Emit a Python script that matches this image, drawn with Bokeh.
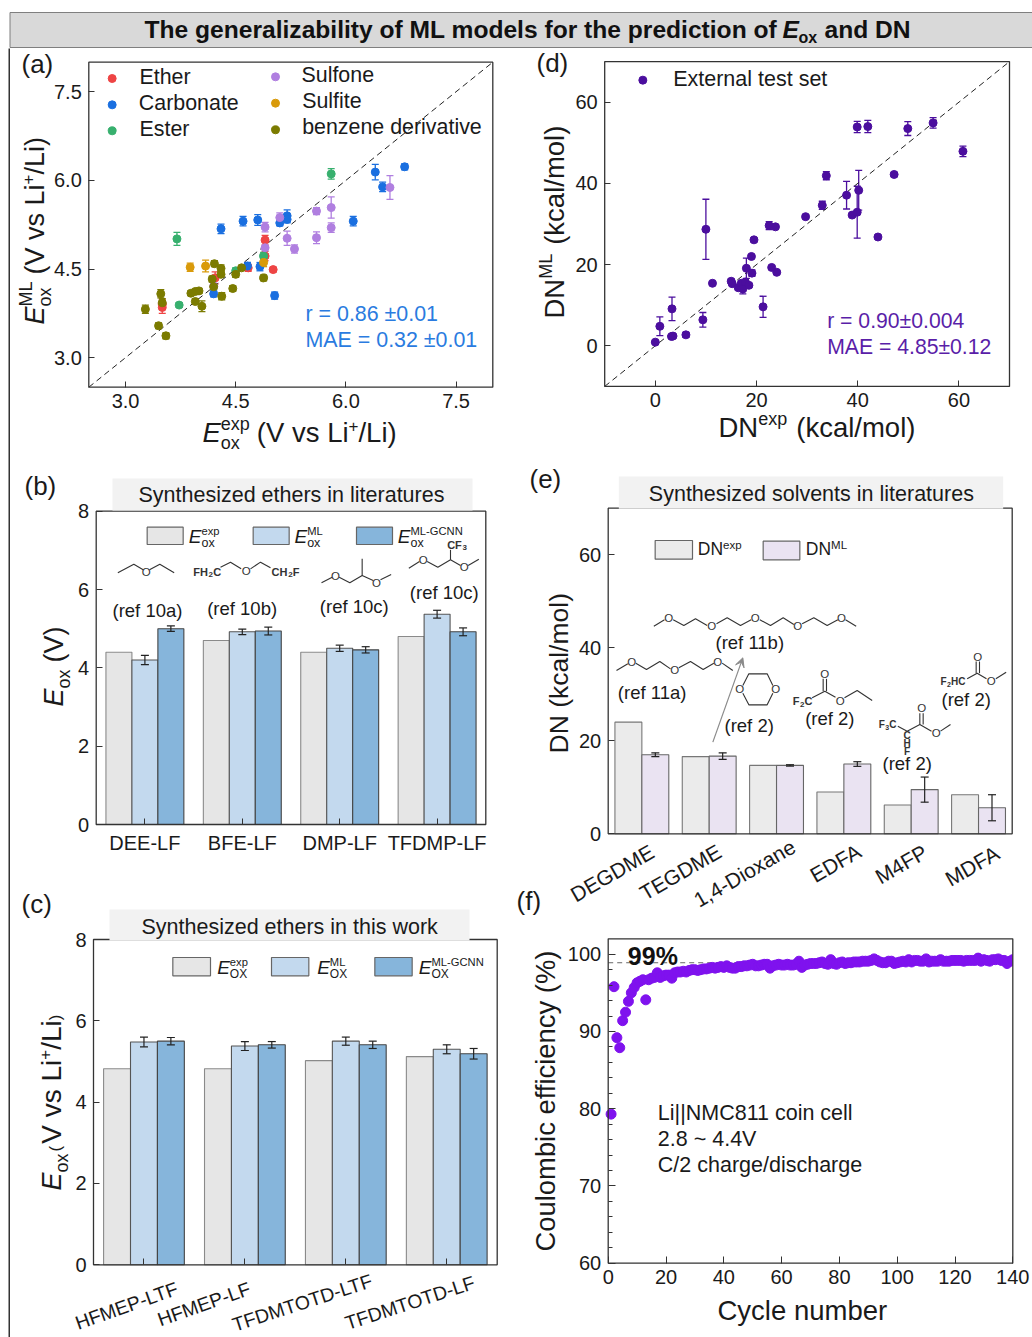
import math
from bokeh.plotting import figure
from bokeh.layouts import row, column
from bokeh.models import (Range1d, Label, BoxAnnotation, Whisker, TeeHead, ColumnDataSource,
                          FixedTicker, Arrow, VeeHead, Spacer)
from bokeh.embed import file_html
from bokeh.resources import INLINE

# ---------- panel (a) ----------
ether_x = [3.5, 3.5, 4.22, 4.67, 4.9, 4.9, 5.01]
ether_y = [3.85, 3.91, 4.35, 4.52, 4.99, 4.72, 4.49]
ether_e = [0.1, 0.08, 0.1, 0.06, 0.08, 0.08, 0.04]
carb_x = [4.2, 4.3, 4.6, 4.8, 4.66, 4.83, 5.03, 5.1, 5.2, 5.2, 6.1, 6.4, 6.5, 6.8]
carb_y = [4.08, 5.18, 5.31, 5.33, 4.55, 4.54, 4.05, 5.28, 5.4, 5.34, 5.31, 6.14, 5.89, 6.23]
carb_e = [0.05, 0.08, 0.08, 0.09, 0.06, 0.07, 0.06, 0.05, 0.1, 0.06, 0.08, 0.13, 0.08, 0.05]
ester_x = [3.7, 3.73, 5.8, 4.88, 4.5]
ester_y = [5.01, 3.89, 6.11, 4.72, 4.47]
ester_e = [0.11, 0.04, 0.09, 0.06, 0.05]
sulfone_x = [5.1, 4.9, 5.2, 5.3, 5.6, 5.6, 5.8, 5.8, 6.6, 4.9, 4.2]
sulfone_y = [5.37, 5.21, 5.02, 4.84, 5.48, 5.03, 5.54, 5.2, 5.88, 4.86, 4.21]
sulfone_e = [0.08, 0.08, 0.12, 0.07, 0.06, 0.1, 0.18, 0.08, 0.2, 0.1, 0.05]
sulfite_x = [3.88, 4.09, 4.88]
sulfite_y = [4.53, 4.55, 4.61]
sulfite_e = [0.07, 0.1, 0.07]
benz_x = [3.27, 3.48, 3.45, 3.55, 3.5, 3.89, 3.95, 4.0, 3.95, 4.04, 4.18, 4.21, 4.2, 4.3, 4.3, 4.31, 4.46, 4.5, 4.58, 4.88]
benz_y = [3.82, 4.08, 3.54, 3.37, 3.93, 4.09, 4.12, 4.13, 3.95, 3.87, 4.33, 4.59, 4.2, 4.51, 4.41, 4.04, 4.17, 4.41, 4.52, 4.35]
benz_e = [0.07, 0.07, 0.05, 0.05, 0.07, 0.04, 0.04, 0.04, 0.05, 0.09, 0.05, 0.05, 0.05, 0.06, 0.05, 0.06, 0.05, 0.05, 0.04, 0.05]
series_names_a = ["Ether", "Carbonate", "Ester", "Sulfone", "Sulfite", "benzene derivative"]

# ---------- panel (d) ----------
dn_exp = [0, 0.9, 3.2, 3.5, 3.3, 6.05, 9.4, 10, 11.3, 15, 15.2, 16.4, 17, 17.3, 17.8, 18.5, 18, 19.1, 19, 19.5,
          21.3, 22.5, 23.75, 23, 24, 29.7, 33, 33.8, 37.8, 38.9, 39.9, 40.2, 39.9, 42, 44, 47.2, 49.9, 54.9, 60.8]
dn_ml = [0.9, 4.8, 2.3, 2.4, 9.1, 2.7, 6.4, 28.7, 15.4, 15.9, 15.3, 14.3, 15.4, 14, 15.7, 14.9, 19.1, 17.9, 22, 26.1,
         9.6, 29.6, 29.3, 19.3, 18.1, 31.8, 34.6, 41.9, 37.1, 32.2, 32.9, 38.3, 53.9, 54, 26.8, 42.2, 53.5, 54.9, 47.9]
dn_err = [0.3, 2.3, 0.4, 0.4, 2.9, 0.6, 1.8, 7.4, 0.4, 0.5, 0.4, 0.5, 0.5, 1.2, 0.5, 0.5, 2.5, 0.8, 0.4, 0.5,
          2.6, 1.0, 0.5, 0.4, 0.4, 0.5, 1.0, 1.0, 3.4, 0.4, 6.4, 4.9, 1.4, 1.5, 0.4, 0.5, 1.7, 1.3, 1.3]

# ---------- panel (b) ----------
cats_b = ["DEE-LF", "BFE-LF", "DMP-LF", "TFDMP-LF"]
b_exp = [4.4, 4.7, 4.4, 4.8]
b_ml = [4.2, 4.92, 4.5, 5.37]
b_gcnn = [5.0, 4.94, 4.46, 4.92]
b_ml_err = [0.12, 0.07, 0.08, 0.1]
b_gcnn_err = [0.07, 0.1, 0.08, 0.1]

# ---------- panel (c) ----------
cats_c = ["HFMEP-LTF", "HFMEP-LF", "TFDMTOTD-LTF", "TFDMTOTD-LF"]
c_exp = [4.82, 4.82, 5.02, 5.12]
c_ml = [5.48, 5.38, 5.5, 5.3]
c_gcnn = [5.5, 5.41, 5.41, 5.19]
c_ml_err = [0.12, 0.11, 0.1, 0.11]
c_gcnn_err = [0.09, 0.08, 0.09, 0.13]

# ---------- panel (e) ----------
cats_e = ["DEGDME", "TEGDME", "1,4-Dioxane", "EDFA", "M4FP", "MDFA"]
e_exp = [24, 16.6, 14.7, 9, 6.2, 8.4]
e_ml = [17, 16.7, 14.7, 15, 9.5, 5.6]
e_ml_err = [0.4, 0.7, 0.15, 0.5, 2.7, 2.8]

# ---------- panel (f) ----------
ce = [79.3, 95.8, 89.2, 87.9, 91.4, 92.5, 93.9, 95.0, 95.7, 96.3, 96.5, 96.7, 94.1, 96.7, 96.9, 97.0, 97.6, 97.0, 97.2, 97.3,
      97.3, 96.9, 97.6, 97.7, 97.7, 97.8, 97.7, 97.9, 98.0, 98.0, 97.9, 98.0, 98.1, 98.1, 98.2, 98.3, 98.2, 98.3, 98.4, 98.3,
      98.5, 98.3, 98.2, 98.2, 98.4, 98.4, 98.5, 98.5, 98.6, 98.7, 98.5, 98.5, 98.6, 98.7, 98.7, 98.2, 98.5, 98.6, 98.7, 98.6,
      98.6, 98.7, 98.6, 98.6, 98.7, 99.1, 98.3, 98.6, 98.7, 98.8, 98.8, 98.8, 98.9, 99.0, 98.8, 98.7, 99.3, 98.8, 98.7, 98.9,
      99.0, 98.8, 98.9, 98.9, 99.0, 99.0, 99.0, 99.1, 99.1, 99.1, 99.2, 99.4, 99.2, 99.0, 98.9, 98.9, 99.1, 99.1, 98.8, 98.9,
      99.0, 99.1, 99.0, 99.3, 99.0, 99.2, 99.2, 99.1, 99.1, 99.4, 99.0, 99.1, 99.1, 99.1, 99.3, 99.1, 99.1, 99.1, 99.2, 99.2,
      99.2, 99.2, 99.1, 99.2, 99.2, 99.2, 99.2, 99.5, 99.1, 99.3, 99.2, 99.1, 99.3, 99.3, 99.4, 99.2, 99.2, 98.8, 99.1, 99.3]

FONT = "Liberation Sans"
W = {' ': .278, '(': .333, ')': .333, '/': .278, '.': .278, ',': .278, '-': .333, '+': .584, '=': .584, '±': .549,
     '%': .889, 'E': .667, 'D': .722, 'N': .722, 'V': .667, 'M': .833, 'L': .556, 'A': .667, 'C': .722, 'G': .778,
     'O': .778, 'F': .611, 'H': .722, 'T': .611, 'i': .222, 'l': .222, 'j': .222, 't': .278, 'f': .278, 'r': .333,
     'c': .5, 'k': .5, 's': .5, 'v': .5, 'y': .5, 'x': .5, 'z': .5, 'm': .833, 'w': .722, '|': .26}


def tw(s, size, bold=False):
    w = sum(W.get(c, .556) for c in s) * size
    return w * 1.05 if bold else w


class P:
    """One panel: the figure's frame fills its whole canvas, the visible box is drawn inside it
    and the axes are pinned to that box with fixed_location."""

    def __init__(self, box, vis, xr, yr, axes=True):
        self.box, self.vis, self.xr, self.yr = box, vis, xr, yr
        X0, Y0, X1, Y1 = box
        vl, vt, vr, vb = vis
        self.sx = (xr[1] - xr[0]) / (vr - vl)
        self.sy = (yr[1] - yr[0]) / (vb - vt)
        self.cx0 = xr[0] + (X0 - vl) * self.sx
        self.cy0 = yr[0] + (vb - Y1) * self.sy
        cx1 = xr[0] + (X1 - vl) * self.sx
        cy1 = yr[0] + (vb - Y0) * self.sy
        self.f = figure(width=X1 - X0, height=Y1 - Y0, x_range=Range1d(self.cx0, cx1), y_range=Range1d(self.cy0, cy1),
                        min_border=0, output_backend="svg", toolbar_location=None, tools="")
        f = self.f
        f.grid.visible = False
        f.outline_line_color = None
        f.background_fill_color = "white"
        f.border_fill_color = "white"
        f.xaxis[0].fixed_location = yr[0]
        f.yaxis[0].fixed_location = xr[0]
        for ax in f.axis:
            ax.axis_line_color = None
            ax.major_tick_in = 6
            ax.major_tick_out = 0
            ax.minor_tick_in = 0
            ax.minor_tick_out = 0
            ax.major_tick_line_color = "#333333"
            ax.major_label_text_font = FONT
            ax.major_label_text_font_size = "20px"
            ax.major_label_text_color = "#1a1a1a"
            ax.major_label_standoff = 7
            ax.visible = axes

    def dx(self, X):
        return self.cx0 + (X - self.box[0]) * self.sx

    def dy(self, Y):
        return self.cy0 + (self.box[3] - Y) * self.sy

    def frame_rect(self):
        self.f.quad(left=[self.xr[0]], right=[self.xr[1]], bottom=[self.yr[0]], top=[self.yr[1]],
                    fill_color=None, line_color="#333333", line_width=1.3)

    def label(self, X, Y, text, size=20, color="#1a1a1a", style="normal", align="left", base="alphabetic", angle=0):
        if base == "alphabetic":
            off = 0.3465 * size
            X = X - math.sin(angle) * off
            Y = Y - math.cos(angle) * off
            base = "middle"
        self.f.add_layout(Label(x=X - self.box[0], y=self.box[3] - Y, x_units="screen", y_units="screen", text=text,
                                text_font=FONT, text_font_size=f"{size}px", text_color=color, text_font_style=style,
                                text_align=align, text_baseline=base, angle=angle))

    def runs(self, X, Y, parts, angle=0, color="#1a1a1a"):
        """parts: (text, size, shift_up, style, advance or None)"""
        ca, sa = math.cos(angle), math.sin(angle)
        pos = 0.0
        for part in parts:
            text, size, shift, style, adv = part
            x = X + ca * pos - sa * shift
            y = Y - sa * pos - ca * shift
            if text.strip():
                self.label(x, y, text, size, color, style, angle=angle)
            pos += tw(text, size, "bold" in style) if adv is None else adv

    def lines(self, ox, oy, chains, color="#333333", width=1.1):
        xs = [[self.dx(ox + a / 3) for a, _ in c] for c in chains]
        ys = [[self.dy(oy + b / 3) for _, b in c] for c in chains]
        self.f.multi_line(xs, ys, line_color=color, line_width=width)

    def box_ann(self, x0, y0, x1, y1, color):
        self.f.add_layout(BoxAnnotation(left=self.dx(x0), right=self.dx(x1), top=self.dy(y0), bottom=self.dy(y1),
                                        fill_color=color, fill_alpha=1, line_color=None, level="annotation"))

    def rect_px(self, x0, y0, x1, y1, color, line="#666666"):
        self.f.quad(left=[self.dx(x0)], right=[self.dx(x1)], top=[self.dy(y0)], bottom=[self.dy(y1)],
                    fill_color=color, line_color=line, line_width=1.2)


def errbars(p, xs, ys, es, color, head=7, width=1.3, level="underlay"):
    src = ColumnDataSource(dict(x=list(xs), u=[a + b for a, b in zip(ys, es)], l=[a - b for a, b in zip(ys, es)]))
    wh = Whisker(base="x", upper="u", lower="l", source=src, line_color=color, line_width=width, level=level,
                 upper_head=TeeHead(size=head, line_color=color, line_width=width),
                 lower_head=TeeHead(size=head, line_color=color, line_width=width))
    p.add_layout(wh)


def set_ticks(ax, ticks, labels=None):
    ax.ticker = FixedTicker(ticks=ticks)
    if labels is not None:
        ax.major_label_overrides = {t: l for t, l in zip(ticks, labels)}


GREY, LBLUE, MBLUE, LPURP = "#E6E6E6", "#C3D9EE", "#86B5DB", "#EAE3F2"

# ================= title =================
T = P((0, 0, 1032, 48), (0, 0, 1032, 48), (0, 1032), (48, 0), axes=False)
T.f.quad(left=[9.5], right=[1040], top=[12], bottom=[47], fill_color="#D9D9D9", line_color="#7f7f7f", line_width=1)
T.label(144, 38, "The generalizability of ML models for the prediction of", 24.6, "#111111", "bold")
T.label(782, 38, "E", 24.6, "#111111", "bold italic")
T.label(798, 43, "ox", 16, "#111111", "bold")
T.label(824, 38, "and DN", 24.6, "#111111", "bold")

side = figure(width=2, height=1289, x_range=Range1d(0, 1), y_range=Range1d(0, 1), min_border=0,
              x_axis_location=None, y_axis_location=None, output_backend="svg", toolbar_location=None, tools="",
              background_fill_color="#333333", border_fill_color="#333333")
side.grid.visible = False
side.outline_line_color = None

# ================= (a) =================
A = P((10, 48, 510, 464), (88.3, 61.7, 492.3, 386.7), (2.5, 8), (2.5, 8))
a = A.f
set_ticks(a.xaxis[0], [3, 4.5, 6, 7.5], ["3.0", "4.5", "6.0", "7.5"])
set_ticks(a.yaxis[0], [3, 4.5, 6, 7.5], ["3.0", "4.5", "6.0", "7.5"])
a.line([2.5, 8], [2.5, 8], line_color="#222222", line_dash="6 4", line_width=1)
colors_a = ["#EE4444", "#1A6FE0", "#37B06E", "#B07FE0", "#D99A0A", "#7B7B00"]
data_a = [(ether_x, ether_y, ether_e), (carb_x, carb_y, carb_e), (ester_x, ester_y, ester_e),
          (sulfone_x, sulfone_y, sulfone_e), (sulfite_x, sulfite_y, sulfite_e), (benz_x, benz_y, benz_e)]
for (xs, ys, es), col in zip(data_a, colors_a):
    errbars(a, xs, ys, es, col)
    a.scatter(xs, ys, size=8, color=col)
lx = [335, 335, 335, 825, 825, 825]
ly = [234, 313, 391, 229, 308, 388]
ltx = [417, 415, 417, 903, 905, 905]
lty = [252, 330, 408, 246, 325, 403]
for i, n in enumerate(series_names_a):
    a.scatter([A.dx(lx[i] / 3)], [A.dy(ly[i] / 3)], size=8, color=colors_a[i])
    A.label(ltx[i] / 3, lty[i] / 3, n, 21.4)
A.frame_rect()
A.label(915 / 3, 962 / 3, "r = 0.86 ±0.01", 21.4, "#2A7BE0")
A.label(915 / 3, 1040 / 3, "MAE = 0.32 ±0.01", 21.4, "#2A7BE0")
A.label(21, 73, "(a)", 26)
A.runs(202, 442, [("E", 27.5, 0, "italic", None), ("ox", 18, -7, "normal", 0), ("exp", 18, 12, "normal", None),
                  ("", 1, 0, "normal", 7), ("(V vs Li", 27.5, 0, "normal", None), ("+", 17, 11, "normal", None),
                  ("/Li)", 27.5, 0, "normal", None)])
A.runs(44, 324, [("E", 27, 0, "italic", None), ("ox", 18, -7, "normal", 0), ("ML", 18, 12, "normal", None),
                 ("", 1, 0, "normal", 7), ("(V vs Li", 27, 0, "normal", None), ("+", 17, 11, "normal", None),
                 ("/Li)", 27, 0, "normal", None)], angle=math.pi / 2)

# ================= (d) =================
D = P((510, 48, 1032, 464), (604.2, 61.1, 1009, 385.9), (-10, 70), (-10, 70))
d = D.f
set_ticks(d.xaxis[0], [0, 20, 40, 60])
set_ticks(d.yaxis[0], [0, 20, 40, 60])
d.line([-10, 70], [-10, 70], line_color="#222222", line_dash="6 4", line_width=1)
DC = "#4B0E9E"
errbars(d, dn_exp, dn_ml, dn_err, DC)
d.scatter(dn_exp, dn_ml, size=8, color=DC)
d.scatter([D.dx(510 + 397 / 3)], [D.dy(40 + 119 / 3)], size=8, color=DC)
D.frame_rect()
D.label(510 + 488 / 3, 40 + 139 / 3, "External test set", 21.5)
D.label(510 + 950 / 3, 40 + 862 / 3, "r = 0.90±0.004", 21.2, "#5A1EA8")
D.label(510 + 950 / 3, 40 + 940 / 3, "MAE = 4.85±0.12", 21.2, "#5A1EA8")
D.label(536, 72, "(d)", 26)
D.runs(718, 437, [("DN", 27.5, 0, "normal", None), ("exp", 18, 12, "normal", None), ("", 1, 0, "normal", 9),
                  ("(kcal/mol)", 27.5, 0, "normal", None)])
D.runs(564, 318, [("DN", 27.5, 0, "normal", None), ("ML", 18, 12, "normal", None), ("", 1, 0, "normal", 9),
                  ("(kcal/mol)", 27.5, 0, "normal", None)], angle=math.pi / 2)


def grouped(P_, cats, series, width, errs, yticks):
    f = P_.f
    n = len(series)
    gx = list(range(1, len(cats) + 1))
    for k, (vals, col, line) in enumerate(series):
        xs = [g + (k - (n - 1) / 2) * width for g in gx]
        f.vbar(x=xs, top=vals, width=width, bottom=0, fill_color=col, line_color=line, line_width=1.1)
        if errs[k] is not None:
            errbars(f, xs, vals, errs[k], "#222222", head=8, width=1.2, level="annotation")
    set_ticks(f.xaxis[0], gx, cats)
    set_ticks(f.yaxis[0], yticks)
    P_.frame_rect()


# ================= (b) =================
B = P((10, 464, 510, 880), (95.7, 510.7, 485.3, 824), (0.5, 4.5), (0, 8))
B.box_ann(112, 478, 472, 510, "#F2F2F2")
grouped(B, cats_b, [(b_exp, GREY, "#8a8a8a"), (b_ml, LBLUE, "#555555"), (b_gcnn, MBLUE, "#444444")], 0.8 / 3,
        [None, b_ml_err, b_gcnn_err], [0, 2, 4, 6, 8])
B.label(138, 502, "Synthesized ethers in literatures", 21.5)
B.label(24, 495, "(b)", 26)
B.runs(63, 706, [("E", 27, 0, "italic", None), ("ox", 18, -7, "normal", None), ("", 1, 0, "normal", 7),
                 ("(V)", 27, 0, "normal", None)], angle=math.pi / 2)
oyb = 460
for bx in [(440, 548), (758, 866), (1068, 1176)]:
    col = {440: GREY, 758: LBLUE, 1068: MBLUE}[bx[0]]
    B.rect_px(bx[0] / 3, oyb + 200 / 3, bx[1] / 3, oyb + 252 / 3, col, "#666666")
for x0, sup in [(565, "exp"), (882, "ML"), (1192, "ML-GCNN")]:
    B.runs(x0 / 3, oyb + 247 / 3, [("E", 19, 0, "italic", None), ("ox", 12.5, -4, "normal", 0), (sup, 11.2, 8, "normal", None)])
for X, Yb, txt in [(336, 470, "(ref 10a)"), (620, 462, "(ref 10b)"), (958, 458, "(ref 10c)"), (1228, 415, "(ref 10c)")]:
    B.label(X / 3, oyb + Yb / 3, txt, 18.5)
B.lines(0, oyb, [[(352, 337), (400, 311), (428, 328)], [(447, 328), (478, 311), (521, 337)],
                 [(660, 320), (690, 305), (722, 325)], [(750, 325), (780, 305), (810, 322)],
                 [(963, 367), (995, 350)], [(1016, 350), (1048, 367), (1085, 345), (1118, 360)], [(1085, 345), (1085, 295)],
                 [(1140, 358), (1172, 342)],
                 [(1225, 323), (1257, 303)], [(1280, 303), (1312, 320), (1350, 298), (1380, 315)], [(1350, 298), (1350, 268)],
                 [(1403, 315), (1435, 296)]])
for X, Y in [(437, 335), (737, 332), (1005, 345), (1128, 366), (1268, 298), (1391, 320)]:
    B.label(X / 3, oyb + Y / 3, "O", 11.5, "#333333", align="center", base="middle")
B.runs(578 / 3, oyb + 345 / 3, [("FH", 11, 0, "bold", None), ("2", 8, -2, "bold", None), ("C", 11, 0, "bold", None)], color="#333333")
B.runs(813 / 3, oyb + 345 / 3, [("CH", 11, 0, "bold", None), ("2", 8, -2, "bold", None), ("F", 11, 0, "bold", None)], color="#333333")
B.runs(1340 / 3, oyb + 264 / 3, [("CF", 11, 0, "bold", None), ("3", 8, -2, "bold", None)], color="#333333")

# ================= (c) =================
C = P((10, 880, 510, 1337), (93, 939, 496.7, 1264.3), (0.5, 4.5), (0, 8))
grouped(C, [""] * 4, [(c_exp, GREY, "#8a8a8a"), (c_ml, LBLUE, "#555555"), (c_gcnn, MBLUE, "#444444")], 0.8 / 3,
        [None, c_ml_err, c_gcnn_err], [0, 2, 4, 6, 8])
C.box_ann(109, 909, 469, 940, "#F2F2F2")
C.label(141, 934, "Synthesized ethers in this work", 21.5)
C.label(21, 913, "(c)", 26)
for (X, Y), t, ang in zip([(378, 1245), (610, 1240), (905, 1236), (1228, 1236)], cats_c, [19.5, 19.5, 18, 18]):
    C.label(X / 3, 890 + Y / 3, t, 19.4, align="center", base="middle", angle=math.radians(ang))
C.runs(61, 1190, [("E", 27, 0, "italic", None), ("ox", 18, -7, "normal", None), ("", 1, 0, "normal", 2),
                  ("(", 17, 0, "normal", None), ("", 1, 0, "normal", 2), ("V vs Li", 28, 0, "normal", None),
                  ("+", 17, 11, "normal", None), ("/Li", 28, 0, "normal", None), (")", 17, 0, "normal", None)],
       angle=math.pi / 2)
for x0, x1, col in [(517, 630, GREY), (813, 925, LBLUE), (1123, 1235, MBLUE)]:
    C.rect_px(x0 / 3, 890 + 201 / 3, x1 / 3, 890 + 256 / 3, col)
for x0, sup in [(650, "exp"), (950, "ML"), (1255, "ML-GCNN")]:
    C.runs(x0 / 3, 890 + 250 / 3, [("E", 19, 0, "italic", None), ("OX", 12, -4, "normal", 0), (sup, 11.2, 8, "normal", None)])

# ================= (e) =================
E = P((510, 464, 1032, 920), (607.7, 507.7, 1011.7, 833.3), (0.5, 6.5), (0, 70))
ox, oy = 510, 460
grouped(E, [""] * 6, [(e_exp, "#EBEBEB", "#777777"), (e_ml, LPURP, "#666666")], 0.4, [None, e_ml_err], [0, 20, 40, 60])
E.box_ann(ox + 325 / 3, oy + 48 / 3, ox + 1478 / 3, oy + 145 / 3, "#F2F2F2")
E.f.xaxis[0].major_tick_in = 0
E.label(ox + 415 / 3, oy + 123 / 3, "Synthesized solvents in literatures", 21.5)
E.label(529, 488, "(e)", 26)
E.label(516, 910, "(f)", 26)
for (X, Y), t in zip([(305, 1238), (510, 1235), (702, 1238), (975, 1208), (1172, 1211), (1385, 1216)], cats_e):
    E.label(ox + X / 3, oy + Y / 3, t, 21, align="center", base="middle", angle=math.radians(30))
E.runs(568, 753, [("DN (kcal/mol)", 26.5, 0, "normal", None)], angle=math.pi / 2)
E.rect_px(ox + 434 / 3, oy + 240 / 3, ox + 546 / 3, oy + 296 / 3, "#EBEBEB")
E.rect_px(ox + 758 / 3, oy + 242 / 3, ox + 868 / 3, oy + 298 / 3, LPURP)
E.runs(ox + 562 / 3, oy + 285 / 3, [("DN", 17.5, 0, "normal", None), ("exp", 11.5, 7, "normal", None)])
E.runs(ox + 886 / 3, oy + 285 / 3, [("DN", 17.5, 0, "normal", None), ("ML", 11.5, 7, "normal", None)])
for X, Yb, txt in [(615, 565, "(ref 11b)"), (322, 715, "(ref 11a)"), (642, 815, "(ref 2)"), (884, 793, "(ref 2)"),
                   (1116, 928, "(ref 2)"), (1293, 735, "(ref 2)")]:
    E.label(ox + X / 3, oy + Yb / 3, txt, 18.5)
E.lines(ox, oy, [[(430, 497), (462, 478)], [(488, 478), (520, 495), (555, 475), (590, 495)],
                 [(618, 490), (650, 472), (690, 495), (722, 478)], [(748, 478), (780, 495), (818, 472), (850, 492)],
                 [(875, 490), (910, 472), (950, 495), (982, 478)], [(1005, 478), (1037, 497)],
                 [(318, 630), (352, 610)], [(376, 608), (408, 627), (448, 603), (480, 625)],
                 [(505, 622), (540, 603), (578, 627), (610, 608)], [(635, 608), (667, 630)],
                 [(697, 675), (715, 640), (770, 640), (787, 675)], [(697, 698), (715, 733), (770, 733), (787, 698)],
                 [(905, 712), (943, 692), (975, 710)], [(1002, 712), (1040, 690), (1085, 720)],
                 [(938, 692), (938, 655)], [(948, 692), (948, 655)],
                 [(1162, 797), (1190, 812), (1228, 792), (1263, 812)], [(1290, 812), (1320, 792)],
                 [(1228, 792), (1228, 758)], [(1238, 792), (1238, 758)],
                 [(1370, 655), (1400, 638), (1428, 655)], [(1456, 655), (1487, 635)],
                 [(1397, 638), (1397, 603)], [(1407, 638), (1407, 603)]])
for X, Y in [(475, 473), (604, 497), (734, 472), (862, 497), (993, 473), (364, 604), (493, 627), (622, 604),
             (688, 686), (796, 686), (989, 720), (943, 640), (1277, 817), (1234, 743), (1442, 662), (1402, 588)]:
    E.label(ox + X / 3, oy + Y / 3, "O", 11.5, "#333333", align="center", base="middle")
for X, Y, t in [(1190, 825, "C"), (1190, 848, "H"), (1190, 872, "F")]:
    E.label(ox + X / 3, oy + Y / 3, t, 10, "#333333", "bold", align="center", base="middle")
E.runs(ox + 847 / 3, oy + 733 / 3, [("F", 11, 0, "bold", None), ("2", 8, -2, "bold", None), ("C", 11, 0, "bold", None)], color="#333333")
E.runs(ox + 1105 / 3, oy + 803 / 3, [("F", 10, 0, "bold", None), ("3", 7, -2, "bold", None), ("C", 10, 0, "bold", None)], color="#333333")
E.runs(ox + 1290 / 3, oy + 672 / 3, [("F", 10, 0, "bold", None), ("2", 7, -2, "bold", None), ("HC", 10, 0, "bold", None)], color="#333333")
E.f.add_layout(Arrow(end=VeeHead(size=9, line_color="#8a8a8a", fill_color="#8a8a8a", line_width=1),
                     x_start=E.dx(ox + 607 / 3), y_start=E.dy(oy + 845 / 3),
                     x_end=E.dx(ox + 697 / 3), y_end=E.dy(oy + 592 / 3), line_color="#8a8a8a", line_width=1.2))

# ================= (f) =================
F = P((510, 920, 1032, 1337), (607.7, 938.3, 1012.3, 1262.7), (0, 140), (60, 102))
f = F.f
set_ticks(f.xaxis[0], [0, 20, 40, 60, 80, 100, 120, 140])
f.yaxis[0].ticker = FixedTicker(ticks=[60, 70, 80, 90, 100], minor_ticks=[62, 64, 66, 68, 72, 74, 76, 78, 82, 84, 86, 88, 92, 94, 96, 98])
f.yaxis[0].minor_tick_in = 4
f.yaxis[0].minor_tick_line_color = "#333333"
f.yaxis[0].major_tick_in = 7
f.xaxis[0].major_tick_in = 7
f.line([0, 140], [98.9, 98.9], line_color="#666666", line_dash="5 4", line_width=1)
f.scatter(list(range(1, len(ce) + 1)), ce, size=10, color="#7F12EE")
f.quad(left=[140], right=[F.dx(1020)], bottom=[60], top=[102], fill_color="white", line_color=None)
F.frame_rect()
F.label(510 + 352 / 3, 890 + 222 / 3, "99%", 25, "#111111", "bold")
for Yb, t in [(690, "Li||NMC811 coin cell"), (768, "2.8 ~ 4.4V"), (846, "C/2 charge/discharge")]:
    F.label(510 + 442 / 3, 890 + Yb / 3, t, 21.5)
F.label(717, 1320, "Cycle number", 27.5)
F.runs(554, 1251, [("Coulombic efficiency (%)", 27.4, 0, "normal", None)], angle=math.pi / 2)

layout = column(T.f, row(Spacer(width=8), side, column(A.f, B.f, C.f), column(D.f, E.f, F.f)))
open("out.html", "w").write(file_html(layout, INLINE))
